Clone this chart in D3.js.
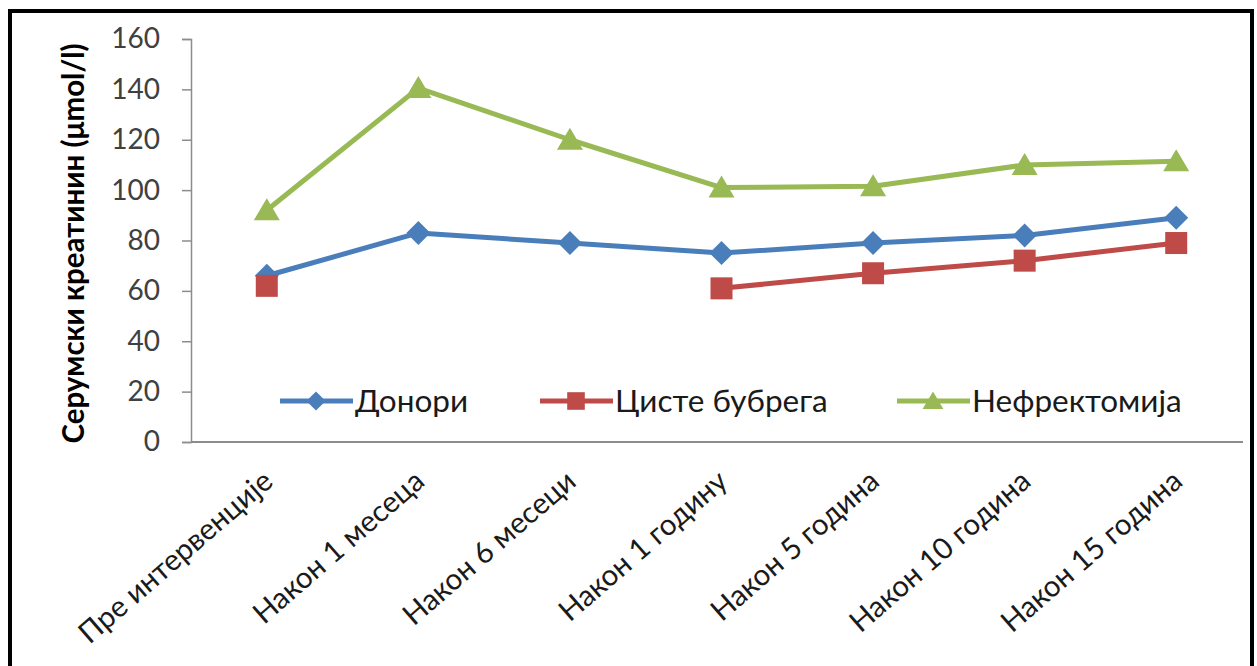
<!DOCTYPE html>
<html>
<head>
<meta charset="utf-8">
<script src="https://cdn.jsdelivr.net/npm/d3@7"></script>
<style>
  html, body { margin: 0; padding: 0; background: #fff; }
  svg { display: block; }
  text { font-family: Lato, "Open Sans", sans-serif; }
</style>
</head>
<body>
<svg id="chart" width="1257" height="666"></svg>
<script>
// Serum creatinine over follow-up time
const categories = [
  "Пре интервенције", "Након 1 месеца", "Након 6 месеци", "Након 1 годину",
  "Након 5 година", "Након 10 година", "Након 15 година"
];
const donori       = [66, 83, 79, 75, 79, 82, 89];
const cisteBubrega = [62, null, null, 61, 67, 72, 79];
const nefrektomija = [92, 140.5, 120, 101, 101.5, 110, 111.5];
const yTicks = [0, 20, 40, 60, 80, 100, 120, 140, 160];

const seriesNames  = ["Донори", "Цисте бубрега", "Нефректомија"];
const seriesColors = ["#4a7ebb", "#be4b48", "#98b954"];

const series = [
  { name: seriesNames[0], values: donori,       color: seriesColors[0], shape: "diamond" },
  { name: seriesNames[1], values: cisteBubrega, color: seriesColors[1], shape: "square" },
  { name: seriesNames[2], values: nefrektomija, color: seriesColors[2], shape: "triangle" }
];

const svg = d3.select("#chart");

// outer frame
svg.append("rect")
  .attr("x", 10).attr("y", 11).attr("width", 1242).attr("height", 680)
  .attr("fill", "none").attr("stroke", "#000").attr("stroke-width", 4);

const plot = { left: 191, right: 1252, top: 39, bottom: 442 };

const x = d3.scaleBand().domain(categories).range([plot.left, plot.right]);
const y = d3.scaleLinear().domain([0, 160]).range([plot.bottom, plot.top]);
const cx = c => x(c) + x.bandwidth() / 2;

// y axis
const yAxis = svg.append("g").attr("transform", `translate(${plot.left},0)`)
  .call(d3.axisLeft(y).tickValues(yTicks).tickSize(9).tickPadding(22));
yAxis.select(".domain").attr("stroke", "#8c8c8c").attr("stroke-width", 1.5);
yAxis.selectAll(".tick line").attr("stroke", "#8c8c8c").attr("stroke-width", 1.5);
yAxis.selectAll(".tick text")
  .attr("fill", "#404040").attr("font-size", 28).attr("font-family", "Lato");

// x axis line
svg.append("line")
  .attr("x1", plot.left).attr("x2", 1243)
  .attr("y1", plot.bottom).attr("y2", plot.bottom)
  .attr("stroke", "#8c8c8c").attr("stroke-width", 2);

// x labels, rotated
svg.append("g").selectAll("text").data(categories).join("text")
  .attr("transform", d => `translate(${cx(d) + 8},${plot.bottom + 42}) rotate(-41)`)
  .attr("text-anchor", "end")
  .attr("fill", "#1a1a1a").attr("font-size", 29.5)
  .text(d => d);

// axis title
svg.append("text")
  .attr("transform", `translate(84,${(plot.top + plot.bottom) / 2 + 3}) rotate(-90)`)
  .attr("text-anchor", "middle")
  .attr("font-weight", "bold").attr("font-size", 29.5).attr("fill", "#000")
  .text("Серумски креатинин (μmol/l)");

function marker(g, shape, color) {
  if (shape === "diamond") {
    g.append("path").attr("d", "M0,-12L12,0L0,12L-12,0Z").attr("fill", color);
  } else if (shape === "square") {
    g.append("rect").attr("x", -11).attr("y", -11).attr("width", 22).attr("height", 22).attr("fill", color);
  } else {
    g.append("path").attr("d", "M0,-12L13,10L-13,10Z").attr("fill", color);
  }
}

// series lines and markers
series.forEach(s => {
  const pts = categories.map((c, i) => ({ c, v: s.values[i] }));
  const line = d3.line()
    .defined(d => d.v != null)
    .x(d => cx(d.c)).y(d => y(d.v));
  svg.append("path").datum(pts)
    .attr("d", line)
    .attr("fill", "none").attr("stroke", s.color).attr("stroke-width", 5)
    .attr("stroke-linejoin", "round");
  const mg = svg.append("g");
  pts.filter(d => d.v != null).forEach(d => {
    const g = mg.append("g").attr("transform", `translate(${cx(d.c)},${y(d.v)})`);
    marker(g, s.shape, s.color);
  });
});

// legend
const legendX = [280, 540, 897];
series.forEach((s, i) => {
  const g = svg.append("g").attr("transform", `translate(${legendX[i]},401)`);
  g.append("line").attr("x1", 0).attr("x2", 73).attr("y1", 0).attr("y2", 0)
    .attr("stroke", s.color).attr("stroke-width", 5);
  const m = g.append("g").attr("transform", "translate(36,0) scale(0.8)");
  marker(m, s.shape, s.color);
  g.append("text").attr("x", 75).attr("y", 11)
    .attr("font-size", 31.5).attr("fill", "#1a1a1a")
    .text(s.name);
});
</script>
</body>
</html>
